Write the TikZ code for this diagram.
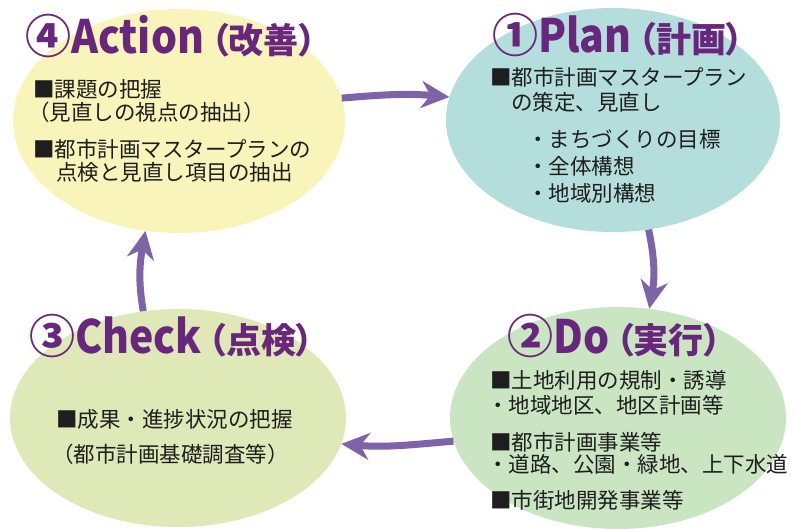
\documentclass[tikz,border=0pt]{standalone}
\usepackage{fontspec}
\setmainfont{Noto Sans CJK JP}
\newfontfamily\cjkpalt{Noto Sans CJK JP}[RawFeature=+palt]
\usetikzlibrary{shapes.geometric,arrows.meta}
\definecolor{ttlpurple}{RGB}{104,38,124}
\definecolor{arrpurple}{RGB}{127,99,168}
\definecolor{bodytext}{RGB}{30,30,30}
\definecolor{actfill}{RGB}{249,245,186}
\definecolor{planfill}{RGB}{179,222,219}
\definecolor{checkfill}{RGB}{223,232,183}
\definecolor{dofill}{RGB}{201,229,193}
\tikzset{
  bubble/.style={ellipse, draw=none, inner sep=0pt},
  ttl/.style={anchor=base west, inner sep=0pt, text=ttlpurple, font=\bfseries},
  body/.style={anchor=base west, inner sep=0pt, text=bodytext, font=\fontsize{21.5}{21.5}\selectfont},
  cyc/.style={draw=arrpurple, line width=7pt, -{Stealth[length=28pt,width=27pt,inset=9pt]}},
}
\newcommand{\ttltext}[3]{{\fontsize{46}{46}\selectfont #1}\scalebox{0.89}[1]{\fontsize{46}{46}\selectfont #2}\hspace{7pt}{\cjkpalt\fontsize{35}{35}\selectfont #3}}
\begin{document}
\begin{tikzpicture}[x=1pt,y=-1pt]
\useasboundingbox (0,0) rectangle (795,528);
\fill[white] (0,0) rectangle (795,528);
% ellipses
\node[bubble, fill=actfill, minimum width=332pt, minimum height=224pt] (act) at (179,121) {};
\node[bubble, fill=planfill, minimum width=334pt, minimum height=224pt] (plan) at (613,120) {};
\node[bubble, fill=checkfill, minimum width=336pt, minimum height=218pt] (check) at (178,418) {};
\node[bubble, fill=dofill, minimum width=336pt, minimum height=222pt] (do) at (618,418) {};
% arrows
\draw[cyc] (act.8) to[out=5,in=175] (plan.172);
\draw[cyc] (plan.-72) to[out=-78,in=80] (do.74);
\draw[cyc] (do.188) to[out=185,in=-5] (check.-9);
\draw[cyc] (check.108) to[out=100,in=-100] (act.-107);
% titles
\node[ttl] (actT) at (25,53) {\ttltext{④}{Action}{（改善）}};
\node[ttl] (planT) at (492,52) {\ttltext{①}{Plan}{（計画）}};
\node[ttl] (checkT) at (29,353) {\ttltext{③}{Check}{（点検）}};
\node[ttl] (doT) at (507,353) {\ttltext{②}{Do}{（実行）}};
% Action body
\node[body] (a1) at (33,97) {■課題の把握};
\node[body] (a2) at (28,120) {（見直しの視点の抽出）};
\node[body] (a3) at (33,157) {■都市計画マスタープランの};
\node[body] (a4) at (56,180) {点検と見直し項目の抽出};
% Plan body
\node[body] (p1) at (490,85) {■都市計画マスタープラン};
\node[body] (p2) at (511,110) {の策定、見直し};
\node[body] (p3) at (527,147) {・まちづくりの目標};
\node[body] (p4) at (527,174) {・全体構想};
\node[body] (p5) at (527,201) {・地域別構想};
% Do body
\node[body] (d1) at (490,388) {■土地利用の規制・誘導};
\node[body] (d2) at (487,413) {・地域地区、地区計画等};
\node[body] (d3) at (490,450) {■都市計画事業等};
\node[body] (d4) at (487,472) {・道路、公園・緑地、上下水道};
\node[body] (d5) at (490,508) {■市街地開発事業等};
% Check body
\node[body] (c1) at (56,427) {■成果・進捗状況の把握};
\node[body] (c2) at (52,462) {（都市計画基礎調査等）};
\end{tikzpicture}
\end{document}
